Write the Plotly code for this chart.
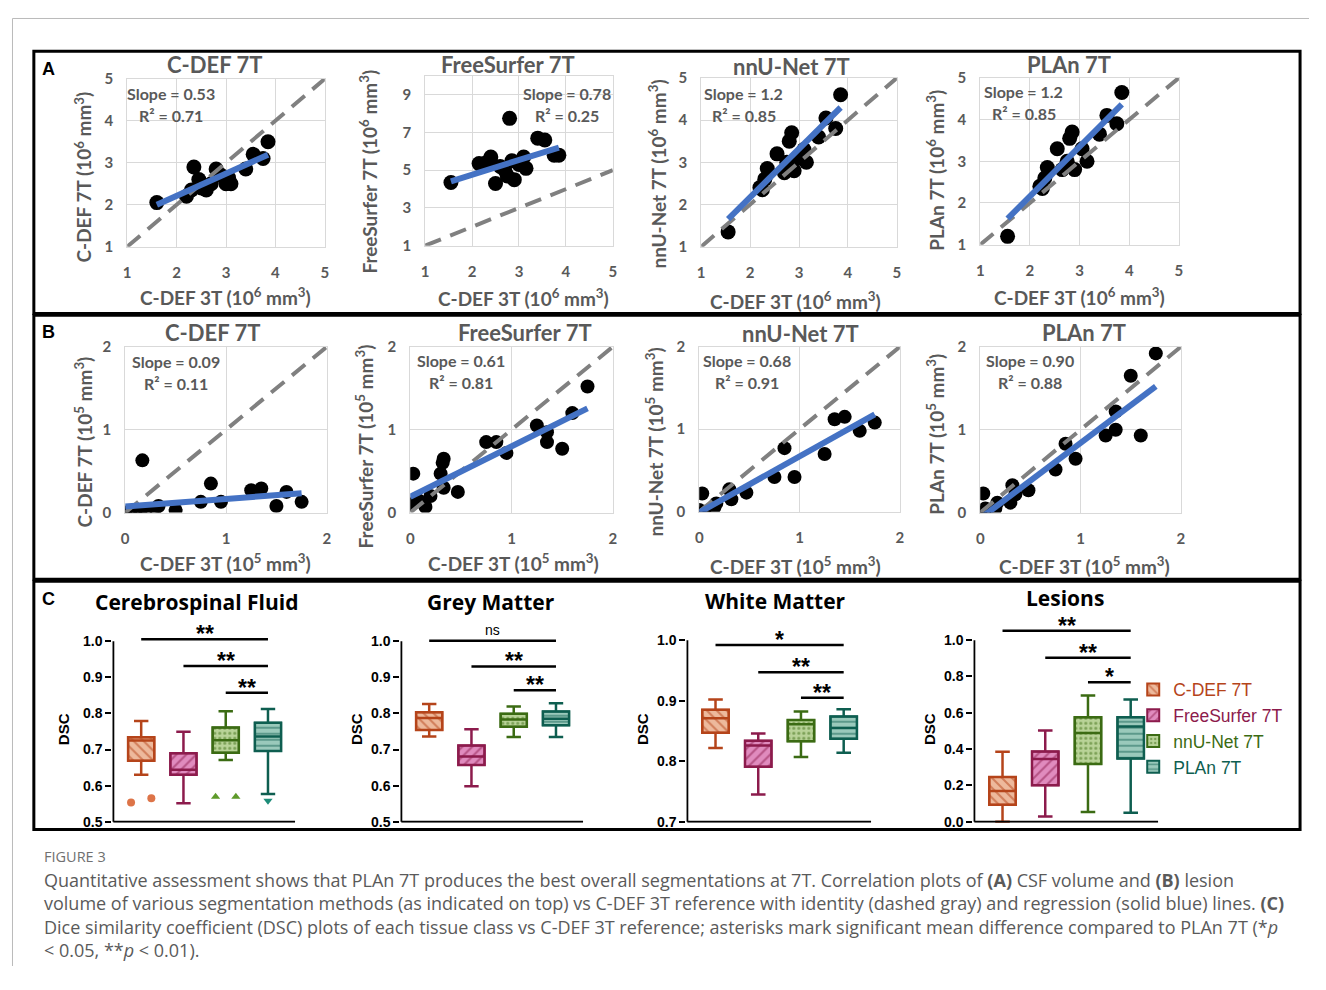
import plotly.graph_objects as go

# page is 1326x990; the html body keeps its default 8px margin.  The figure is kept a bit
# smaller than the page so that nothing overflows the window.
OFF = 8
W, H = 1306, 966

# ------------------------------------------------------------------ data
methods = ["C-DEF 7T", "FreeSurfer 7T", "nnU-Net 7T", "PLAn 7T"]

# Panel A: CSF volume (10^6 mm^3); x = C-DEF 3T reference
csf_x_cdef = [1.6, 2.2, 2.3, 2.35, 2.45, 2.5, 2.6, 2.7, 2.8, 2.9, 3.0, 3.05, 3.1, 3.4, 3.55, 3.75, 3.85]
csf_y_cdef = [2.05, 2.2, 2.35, 2.9, 2.6, 2.4, 2.35, 2.5, 2.85, 2.7, 2.5, 2.65, 2.5, 2.85, 3.2, 3.1, 3.5]
csf_x_fs = [1.55, 2.15, 2.3, 2.4, 2.5, 2.6, 2.7, 2.75, 2.8, 2.85, 2.9, 3.0, 3.1, 3.15, 3.4, 3.55, 3.75, 3.85]
csf_y_fs = [4.35, 5.35, 5.4, 5.7, 4.3, 5.2, 5.0, 4.7, 7.75, 5.5, 4.5, 5.3, 5.7, 5.1, 6.7, 6.6, 5.8, 5.8]
csf_x_nn = [1.55, 2.2, 2.25, 2.3, 2.35, 2.55, 2.7, 2.75, 2.8, 2.85, 2.9, 3.0, 3.1, 3.15, 3.4, 3.55, 3.75, 3.85]
csf_y_nn = [1.35, 2.4, 2.35, 2.6, 2.85, 3.2, 2.75, 3.0, 3.5, 3.7, 2.8, 3.1, 3.3, 3.0, 3.6, 4.05, 3.8, 4.6]
csf_x_plan = [1.55, 2.2, 2.25, 2.3, 2.35, 2.55, 2.65, 2.75, 2.8, 2.85, 2.9, 3.05, 3.15, 3.4, 3.55, 3.75, 3.85]
csf_y_plan = [1.2, 2.4, 2.35, 2.6, 2.85, 3.3, 2.8, 3.0, 3.55, 3.7, 2.8, 3.3, 3.0, 3.65, 4.1, 3.9, 4.65]
csf_slope_txt = ["0.53", "0.78", "1.2", "1.2"]
csf_r2_txt = ["0.71", "0.25", "0.85", "0.85"]
csf_fit_slope = [0.53, 0.78, 1.15, 1.19]
csf_fit_icpt = [1.15, 3.2, -0.13, -0.22]

# Panel B: lesion volume (10^5 mm^3)
les_x_cdef = [0.0, 0.05, 0.1, 0.15, 0.17, 0.2, 0.3, 0.33, 0.5, 0.75, 0.85, 0.95, 1.25, 1.35, 1.5, 1.6, 1.75]
les_y_cdef = [0.0, 0.0, 0.01, 0.0, 0.63, 0.02, 0.05, 0.08, 0.03, 0.13, 0.35, 0.13, 0.27, 0.29, 0.08, 0.25, 0.13]
les_x_fs = [0.0, 0.03, 0.08, 0.15, 0.2, 0.3, 0.32, 0.33, 0.33, 0.47, 0.75, 0.85, 0.95, 1.25, 1.35, 1.35, 1.5, 1.6, 1.75]
les_y_fs = [0.1, 0.47, 0.15, 0.07, 0.2, 0.47, 0.6, 0.65, 0.3, 0.25, 0.85, 0.85, 0.72, 1.05, 0.97, 0.85, 0.77, 1.2, 1.52]
les_x_nn = [0.0, 0.03, 0.05, 0.15, 0.17, 0.3, 0.32, 0.47, 0.75, 0.85, 0.95, 1.25, 1.35, 1.45, 1.6, 1.75]
les_y_nn = [0.02, 0.22, 0.0, 0.05, 0.1, 0.27, 0.15, 0.23, 0.42, 0.77, 0.42, 0.7, 1.12, 1.15, 0.98, 1.08]
les_x_plan = [0.0, 0.03, 0.05, 0.15, 0.17, 0.3, 0.32, 0.35, 0.48, 0.75, 0.85, 0.95, 1.25, 1.35, 1.35, 1.5, 1.6, 1.75]
les_y_plan = [0.0, 0.23, 0.05, 0.05, 0.12, 0.12, 0.33, 0.22, 0.27, 0.52, 0.83, 0.65, 0.93, 1.0, 1.22, 1.65, 0.93, 1.92]
les_slope_txt = ["0.09", "0.61", "0.68", "0.90"]
les_r2_txt = ["0.11", "0.81", "0.91", "0.88"]
les_fit_slope = [0.09, 0.61, 0.68, 0.91]
les_fit_icpt = [0.075, 0.19, -0.01, -0.07]

# Panel C: Dice similarity coefficient, per tissue: [min, q1, median, q3, max] per method
tissues = ["Cerebrospinal Fluid", "Grey Matter", "White Matter", "Lesions"]
dsc_csf = [[0.630, 0.669, 0.725, 0.734, 0.779], [0.551, 0.630, 0.644, 0.690, 0.749],
           [0.671, 0.691, 0.726, 0.761, 0.806], [0.577, 0.696, 0.736, 0.774, 0.812]]
dsc_gm = [[0.736, 0.754, 0.787, 0.803, 0.826], [0.598, 0.657, 0.681, 0.711, 0.756],
          [0.735, 0.763, 0.783, 0.799, 0.819], [0.735, 0.767, 0.785, 0.805, 0.828]]
dsc_wm = [[0.822, 0.847, 0.871, 0.885, 0.902], [0.745, 0.791, 0.826, 0.834, 0.846],
          [0.807, 0.833, 0.861, 0.868, 0.882], [0.814, 0.837, 0.855, 0.874, 0.886]]
dsc_les = [[0.000, 0.094, 0.169, 0.246, 0.385], [0.029, 0.201, 0.345, 0.387, 0.502],
           [0.054, 0.318, 0.489, 0.576, 0.696], [0.049, 0.349, 0.525, 0.576, 0.673]]
csf_outliers = [[0.553, 0.565], [], [0.569, 0.569], [0.558]]
# significance bars: (group from, group to, level, label)
sig_csf = [(1, 4, 1.005, "**"), (2, 4, 0.931, "**"), (3, 4, 0.857, "**")]
sig_gm = [(1, 4, 1.001, "ns"), (2, 4, 0.930, "**"), (3, 4, 0.864, "**")]
sig_wm = [(1, 4, 0.992, "*"), (2, 4, 0.947, "**"), (3, 4, 0.905, "**")]
sig_les = [(1, 4, 1.052, "**"), (2, 4, 0.903, "**"), (3, 4, 0.768, "*")]
dsc_ticks = [[0.5, 0.6, 0.7, 0.8, 0.9, 1.0], [0.5, 0.6, 0.7, 0.8, 0.9, 1.0],
             [0.7, 0.8, 0.9, 1.0], [0.0, 0.2, 0.4, 0.6, 0.8, 1.0]]

# ------------------------------------------------------------------ styles
GRAY = "#595959"
DARK = ["#B5441A", "#8C1B4C", "#3B6B13", "#0E5E50"]
LIGHT = ["#EDB99C", "#E08BBE", "#B9D398", "#9AC9BB"]
OUTC = ["#DD7448", "#B0406E", "#5E9A2A", "#1D8C78"]
OUTSYM = ["circle", "circle", "triangle-up", "triangle-down"]
PATT = ["\\", "/", ".", "-"]
PSIZE = [7, 7, 5, 6]


def fx(p):
    return (p - OFF) / W


def fy(p):
    return 1 - (p - OFF) / H


def axn(k, a):
    return (a + "axis") if k == 1 else f"{a}axis{k}"


def axr(k, a):
    return a if k == 1 else f"{a}{k}"


fig = go.Figure()
layout = dict(width=W, height=H, margin=dict(l=0, r=0, t=0, b=0),
              paper_bgcolor="white", plot_bgcolor="white",
              barmode="overlay", boxmode="overlay", showlegend=True)
annotations = []
shapes = []


def ann(x, y, text, size, color="black", family="Lato", bold=True, angle=0,
        xanchor="center", yanchor="middle", yshift=0):
    annotations.append(dict(x=fx(x), y=fy(y), xref="paper", yref="paper", text=text,
                            showarrow=False, textangle=angle, xanchor=xanchor,
                            yanchor=yanchor, yshift=yshift,
                            font=dict(family=family, size=size, color=color,
                                      weight="bold" if bold else "normal")))


# ------------------------------------------------------------------ scatter panels
scat_sets = [
    (csf_x_cdef, csf_y_cdef), (csf_x_fs, csf_y_fs), (csf_x_nn, csf_y_nn), (csf_x_plan, csf_y_plan),
    (les_x_cdef, les_y_cdef), (les_x_fs, les_y_fs), (les_x_nn, les_y_nn), (les_x_plan, les_y_plan),
]
fits = list(zip(csf_fit_slope + les_fit_slope, csf_fit_icpt + les_fit_icpt))
stat_txt = list(zip(csf_slope_txt + les_slope_txt, csf_r2_txt + les_r2_txt))
scat_px = [(124, 323, 70, 241), (424, 613, 67, 240), (702, 899, 69, 241), (983, 1183, 69, 239),
           (122, 325, 343, 512), (409, 613, 343, 512), (700, 902, 343, 511), (983, 1185, 343, 512)]
xr = [[1, 5]] * 4 + [[0, 2]] * 4
yr = [[1, 5], [1, 10], [1, 5], [1, 5]] + [[0, 2]] * 4
xt = [[1, 2, 3, 4, 5]] * 4 + [[0, 1, 2]] * 4
yt = [[1, 2, 3, 4, 5], [1, 3, 5, 7, 9], [1, 2, 3, 4, 5], [1, 2, 3, 4, 5]] + [[0, 1, 2]] * 4
title_pos = [(212, 55), (507, 55), (793, 57), (1072, 55), (210, 328), (525, 328), (802, 329), (1087, 328)]
xlab_pos = [(223, 292), (523, 293), (797, 296), (1083, 292), (223, 563), (513, 563), (797, 566), (1088, 566)]
ylab_pos = [(80, 170), (367, 165), (658, 167), (938, 163), (80, 440), (363, 445), (655, 440), (938, 432)]
stat_pos = [(168, 85), (567, 85), (745, 85), (1027, 83), (173, 358), (460, 357), (748, 357), (1033, 357)]
mk_size = [15] * 4 + [14] * 4
tick_font = dict(family="Lato", size=15, color=GRAY, weight="bold")

for i in range(8):
    k = i + 1
    x0, x1, y0, y1 = scat_px[i]
    grid = dict(showgrid=True, gridcolor="#D9D9D9", gridwidth=1, zeroline=False,
                showline=True, mirror=True, linecolor="#D9D9D9", linewidth=1,
                ticks="outside", tickcolor="rgba(0,0,0,0)", tickfont=tick_font, fixedrange=True)
    layout[axn(k, "x")] = dict(domain=[fx(x0), fx(x1)], range=xr[i], tickvals=xt[i],
                               anchor=axr(k, "y"), ticklen=12, **grid)
    layout[axn(k, "y")] = dict(domain=[fy(y1), fy(y0)], range=yr[i], tickvals=yt[i],
                               anchor=axr(k, "x"), ticklen=10, **grid)
    xs, ys = scat_sets[i]
    xa, ya = axr(k, "x"), axr(k, "y")
    fig.add_trace(go.Scatter(x=xs, y=ys, mode="markers", xaxis=xa, yaxis=ya,
                             marker=dict(color="black", size=mk_size[i]), showlegend=False))
    lo, hi = xr[i]
    fig.add_trace(go.Scatter(x=[lo, hi], y=[lo, hi], mode="lines", xaxis=xa, yaxis=ya,
                             line=dict(color="#808080", width=4, dash="17px,10px"), showlegend=False))
    s, b = fits[i]
    fx0, fx1 = min(xs), max(xs)
    fig.add_trace(go.Scatter(x=[fx0, fx1], y=[s * fx0 + b, s * fx1 + b], mode="lines",
                             xaxis=xa, yaxis=ya, line=dict(color="#4472C4", width=6),
                             showlegend=False))
    name = methods[i % 4]
    unit = "6" if i < 4 else "5"
    ann(*title_pos[i], name, 22, GRAY)
    ann(*xlab_pos[i], f"C-DEF 3T (10<sup>{unit}</sup> mm<sup>3</sup>)", 19, GRAY)
    ann(*ylab_pos[i], f"{name} (10<sup>{unit}</sup> mm<sup>3</sup>)", 19, GRAY, angle=-90)
    sx, sy = stat_pos[i]
    ann(sx, sy, f"Slope = {stat_txt[i][0]}", 16, GRAY)
    ann(sx, sy + 22, f"R² = {stat_txt[i][1]}", 16, GRAY)

# ------------------------------------------------------------------ box panels
dsc_sets = [dsc_csf, dsc_gm, dsc_wm, dsc_les]
sig_sets = [sig_csf, sig_gm, sig_wm, sig_les]
box_px = [(110, 293, 827, 643), (400, 583, 827, 643), (688, 873, 827, 642), (977, 1162, 827, 642)]
ctitle_pos = [(194, 603), (490, 603), (777, 602), (1068, 599)]
dsc_lab_x = [60, 355, 643, 932]
XL, XH = 0.34, 4.64
TOP_PX = 612
BW = 0.62

for t in range(4):
    k = 9 + t
    xa, ya = axr(k, "x"), axr(k, "y")
    ax0, ax1, ymin_px, ymax_px = box_px[t]
    sxp = (ax1 - ax0) / (XH - XL)
    ymin, ymax = dsc_ticks[t][0], dsc_ticks[t][-1]
    syp = (ymin_px - ymax_px) / (ymax - ymin)
    layout[axn(k, "x")] = dict(domain=[fx(ax0 - 1), fx(ax1 + 1)],
                               range=[XL - 1 / sxp, XH + 1 / sxp], anchor=ya,
                               showgrid=False, zeroline=False, showticklabels=False,
                               ticks="", showline=False, fixedrange=True)
    layout[axn(k, "y")] = dict(domain=[fy(ymin_px + 1), fy(TOP_PX)],
                               range=[ymin - 1 / syp, ymax + (ymax_px - TOP_PX) / syp],
                               anchor=xa, tickvals=dsc_ticks[t], tickformat=".1f",
                               ticks="outside", ticklen=6, tickwidth=2, tickcolor="black",
                               tickfont=dict(family="Liberation Sans", size=14, color="black",
                                             weight="bold"),
                               showgrid=False, zeroline=False, showline=False, fixedrange=True)
    for j in range(4):
        mn, q1, md, q3, mx = dsc_sets[t][j]
        fig.add_trace(go.Bar(x=[j + 1], y=[q3 - q1], base=[q1], width=BW, xaxis=xa, yaxis=ya,
                             name=f"<span style='color:{DARK[j]}'>{methods[j]}</span>",
                             showlegend=(t == 3),
                             marker=dict(color=LIGHT[j], line=dict(color=DARK[j], width=2),
                                         pattern=dict(shape=PATT[j], fgcolor=DARK[j], size=PSIZE[j],
                                                      solidity=0.3, fillmode="overlay"))))
        fig.add_trace(go.Box(x=[j + 1], q1=[q1], median=[md], q3=[q3], lowerfence=[mn],
                             upperfence=[mx], width=BW, xaxis=xa, yaxis=ya,
                             line=dict(color=DARK[j], width=2.5), fillcolor="rgba(0,0,0,0)",
                             whiskerwidth=0.55, boxpoints=False, showlegend=False,
                             hoverinfo="skip"))
        if t == 0 and csf_outliers[j]:
            n = len(csf_outliers[j])
            offs = [0.0] if n == 1 else [-0.24 + 0.48 * m / (n - 1) for m in range(n)]
            fig.add_trace(go.Scatter(x=[j + 1 + o for o in offs], y=csf_outliers[j],
                                     mode="markers", xaxis=xa, yaxis=ya, showlegend=False,
                                     marker=dict(color=OUTC[j], size=8, symbol=OUTSYM[j])))
    # axis lines
    shapes.append(dict(type="line", xref=xa, yref=ya, x0=XL, x1=XL, y0=ymin, y1=ymax,
                       line=dict(color="black", width=2)))
    shapes.append(dict(type="line", xref=xa, yref=ya, x0=XL, x1=XH, y0=ymin, y1=ymin,
                       line=dict(color="black", width=2)))
    for g0, g1, lev, lab in sig_sets[t]:
        shapes.append(dict(type="line", xref=xa, yref=ya, x0=g0, x1=g1, y0=lev, y1=lev,
                           line=dict(color="black", width=2.5)))
        star = lab != "ns"
        annotations.append(dict(x=(g0 + g1) / 2, y=lev, xref=xa, yref=ya, text=lab,
                                showarrow=False, xanchor="center",
                                yanchor="middle" if star else "bottom",
                                yshift=5 if star else 1,
                                font=dict(family="Liberation Sans", size=23 if star else 14,
                                          color="black", weight="bold" if star else "normal")))
    ann(*ctitle_pos[t], tissues[t], 21, "black", family="Open Sans")
    ann(dsc_lab_x[t], 733, "DSC", 15, "black", family="Liberation Sans", angle=-90)

# ------------------------------------------------------------------ panel frames & labels
for (y0, y1) in [(42, 309), (311, 580), (582, 835)]:
    shapes.append(dict(type="rect", xref="paper", yref="paper", x0=fx(30), x1=fx(1305),
                       y0=fy(y1), y1=fy(y0), line=dict(color="black", width=3)))
shapes.append(dict(type="line", xref="paper", yref="paper", x0=fx(8.5), x1=1, y0=fy(8.5), y1=fy(8.5),
                   line=dict(color="#BBBBBB", width=1)))
shapes.append(dict(type="line", xref="paper", yref="paper", x0=fx(8.5), x1=fx(8.5), y0=0, y1=fy(8.5),
                   line=dict(color="#BBBBBB", width=1)))
ann(45, 60, "A", 18, "black", family="Liberation Sans")
ann(45, 328, "B", 18, "black", family="Liberation Sans")
ann(45, 600, "C", 18, "black", family="Liberation Sans")

# ------------------------------------------------------------------ caption
cap_col = "#5A5A5A"
ann(38, 862, "FIGURE 3", 14.5, "#707070", family="Open Sans", bold=False, xanchor="left")
cap_lines = [
    "Quantitative assessment shows that PLAn 7T produces the best overall segmentations at 7T. "
    "Correlation plots of <b>(A)</b> CSF volume and <b>(B)</b> lesion",
    "volume of various segmentation methods (as indicated on top) vs C-DEF 3T reference with "
    "identity (dashed gray) and regression (solid blue) lines. <b>(C)</b>",
    "Dice similarity coefficient (DSC) plots of each tissue class vs C-DEF 3T reference; asterisks "
    "mark significant mean difference compared to PLAn 7T (*<i>p</i>",
    "&lt; 0.05, **<i>p</i> &lt; 0.01).",
]
for n, line in enumerate(cap_lines):
    ann(38, 886 + 24 * n, line, 18, cap_col, family="Open Sans", bold=False, xanchor="left")

layout["annotations"] = annotations
layout["shapes"] = shapes
layout["legend"] = dict(x=fx(1137), y=fy(674), xanchor="left", yanchor="top",
                        bgcolor="rgba(0,0,0,0)", tracegroupgap=0,
                        font=dict(family="Liberation Sans", size=17.5, color="black"))
fig.update_layout(**layout)

fig.write_html("out.html", config={"displayModeBar": False})
